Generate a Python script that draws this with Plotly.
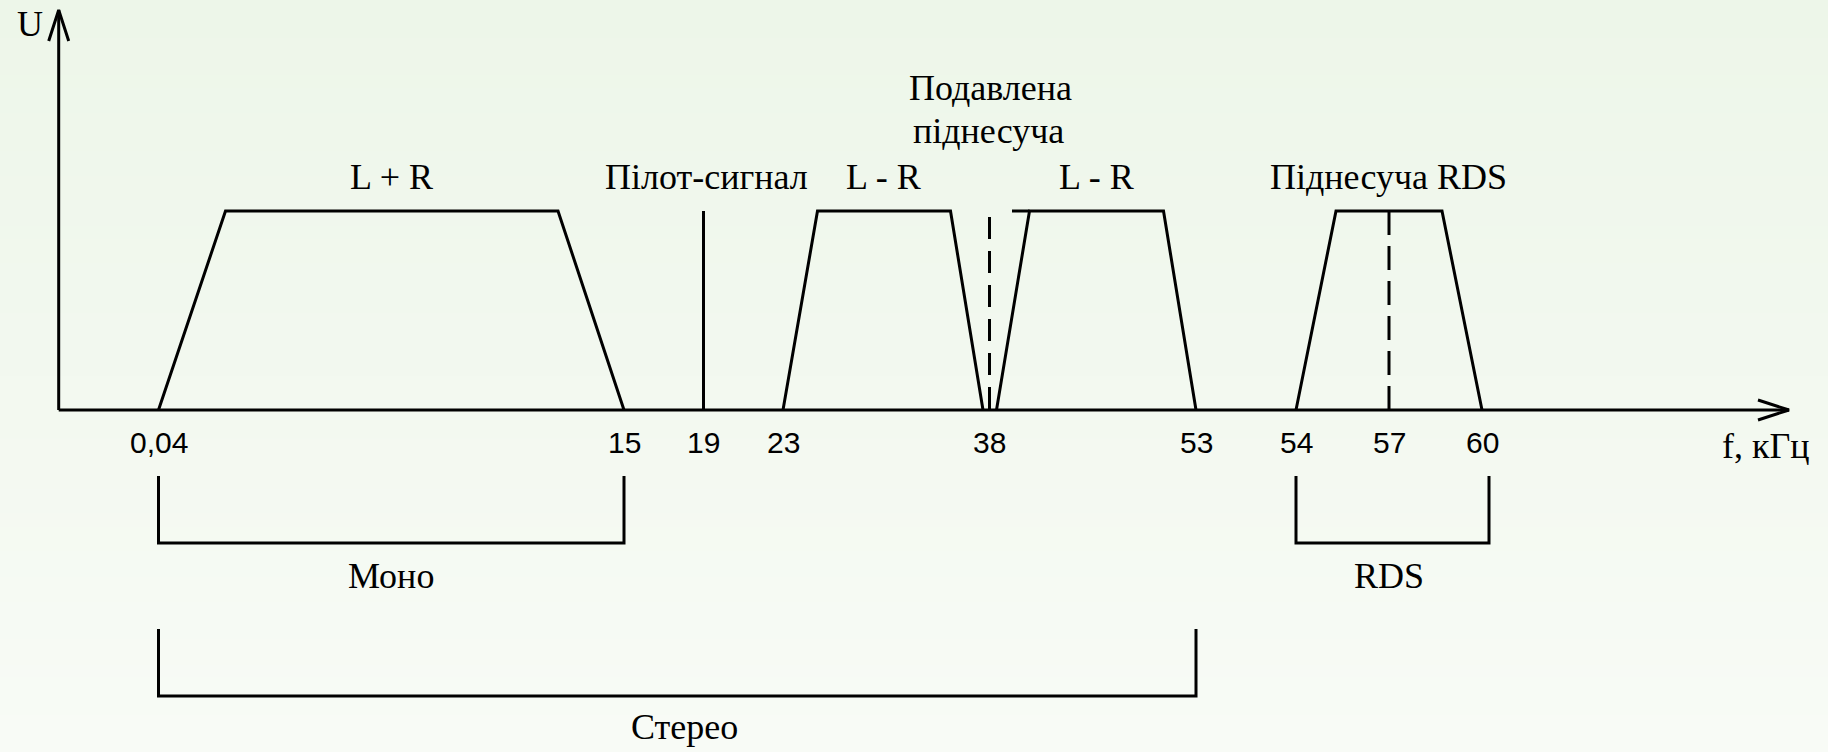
import plotly.graph_objects as go

# ---- frequency markers on the horizontal axis (kHz) and their schematic positions ----
tick_labels = ["0,04", "15", "19", "23", "38", "53", "54", "57", "60"]
tick_pos = [158.5, 624, 703.5, 783, 989.5, 1196, 1296, 1389, 1482]

# ---- spectral bands (trapezoids): corner positions and relative amplitude ----
band_y = [0, 1, 1, 0]
lr_sum_x = [158.5, 225.5, 558, 624]          # L + R, 0.04 ... 15 kHz
lr_diff_low_x = [783, 817.5, 950.5, 983]     # lower sideband L - R, 23 ... 38 kHz
lr_diff_high_x = [996.5, 1029.5, 1163.5, 1196]  # upper sideband L - R, 38 ... 53 kHz
lr_diff_high_stub_x = [1012, 1029.5]
rds_x = [1296, 1336, 1442, 1482]             # RDS, 54 ... 60 kHz

# ---- single carriers ----
pilot_x = 703.5          # 19 kHz pilot tone
pilot_level = 1.0
suppressed_x = 989.5     # 38 kHz suppressed subcarrier
suppressed_level = 0.97
rds_carrier_x = 1389     # 57 kHz RDS subcarrier
rds_carrier_level = 1.0

# ---- brackets under the axis ----
mono_span = [158.5, 624]
stereo_span = [158.5, 1196]
rds_span = [1296, 1489]
upper_bracket_y = [-0.332, -0.668]
lower_bracket_y = [-1.10, -1.437]

# ---- axes geometry ----
axis_origin_x = 58.7
x_axis_end = 1789
y_axis_end = 2.01

W, H = 1828, 752
BASE_PX, UNIT_PX = 410, 199
y_range = [(BASE_PX - H) / UNIT_PX, BASE_PX / UNIT_PX]

LW = 3
BLACK = "#000000"
SERIF = "Liberation Serif, Times New Roman, serif"
SANS = "Liberation Sans, Arial, sans-serif"

fig = go.Figure()


def add_line(xs, ys, dash="solid", width=LW):
    fig.add_trace(go.Scatter(
        x=xs, y=ys, mode="lines",
        line=dict(color=BLACK, width=width, dash=dash),
        hoverinfo="skip", showlegend=False,
    ))


# axes with open arrowheads
add_line([axis_origin_x, x_axis_end], [0, 0])
add_line([x_axis_end - 31, x_axis_end, x_axis_end - 31], [0.05, 0, -0.05])
add_line([axis_origin_x, axis_origin_x], [0, y_axis_end])
add_line([axis_origin_x - 10, axis_origin_x, axis_origin_x + 10],
         [y_axis_end - 0.156, y_axis_end, y_axis_end - 0.156])

# spectral bands
add_line(lr_sum_x, band_y)
add_line(lr_diff_low_x, band_y)
add_line(lr_diff_high_x, band_y)
add_line(lr_diff_high_stub_x, [1, 1])
add_line(rds_x, band_y)

# carriers
add_line([pilot_x, pilot_x], [0, pilot_level])
add_line([suppressed_x, suppressed_x], [suppressed_level, 0], dash="22px,12px")
add_line([rds_carrier_x, rds_carrier_x], [rds_carrier_level, 0], dash="24px,11px")


def add_bracket(span, ys):
    top, bottom = ys
    add_line([span[0], span[0], span[1], span[1]], [top, bottom, bottom, top])


add_bracket(mono_span, upper_bracket_y)
add_bracket(rds_span, upper_bracket_y)
add_bracket(stereo_span, lower_bracket_y)

annotations = []


def label(text, x, y, font, size):
    annotations.append(dict(
        text=text, x=x, y=y, xref="x", yref="y",
        xanchor="center", yanchor="middle", showarrow=False,
        font=dict(family=font, size=size, color=BLACK),
    ))


# frequency tick labels
for pos, txt in zip(tick_pos, tick_labels):
    label(txt, pos, -0.163, SANS, 30)

# axis titles
label("U", 29.5, 1.94, SERIF, 36)
label("f, кГц", 1766, -0.181, SERIF, 36)

# band and carrier captions
label("L + R", 391, 1.171, SERIF, 36)
label("Пілот-сигнал", 706, 1.171, SERIF, 36)
label("L - R", 883, 1.171, SERIF, 36)
label("L - R", 1096, 1.171, SERIF, 36)
label("Піднесуча RDS", 1388, 1.171, SERIF, 36)
label("Подавлена", 990, 1.616, SERIF, 36)
label("піднесуча", 988, 1.402, SERIF, 36)

# bracket captions
label("Моно", 391, -0.834, SERIF, 36)
label("RDS", 1389, -0.834, SERIF, 36)
label("Стерео", 684, -1.595, SERIF, 36)

# soft vertical background gradient
shapes = []
n_bands = 60
top_rgb = (237, 246, 233)
bot_rgb = (248, 251, 246)
for i in range(n_bands):
    t = i / (n_bands - 1)
    r = round(top_rgb[0] + (bot_rgb[0] - top_rgb[0]) * t)
    g = round(top_rgb[1] + (bot_rgb[1] - top_rgb[1]) * t)
    b = round(top_rgb[2] + (bot_rgb[2] - top_rgb[2]) * t)
    y1 = 1 - i / n_bands
    y0 = 1 - (i + 1) / n_bands - 0.002
    shapes.append(dict(
        type="rect", xref="paper", yref="paper",
        x0=0, x1=1, y0=max(y0, 0), y1=y1,
        fillcolor=f"rgb({r},{g},{b})", line=dict(width=0), layer="below",
    ))

fig.update_layout(
    width=W, height=H,
    margin=dict(l=0, r=0, t=0, b=0),
    paper_bgcolor="rgb(243,248,240)",
    plot_bgcolor="rgba(0,0,0,0)",
    xaxis=dict(range=[0, W], visible=False, fixedrange=True),
    yaxis=dict(range=y_range, visible=False, fixedrange=True),
    annotations=annotations,
    shapes=shapes,
    showlegend=False,
    hovermode=False,
)

fig.write_html("out.html")
